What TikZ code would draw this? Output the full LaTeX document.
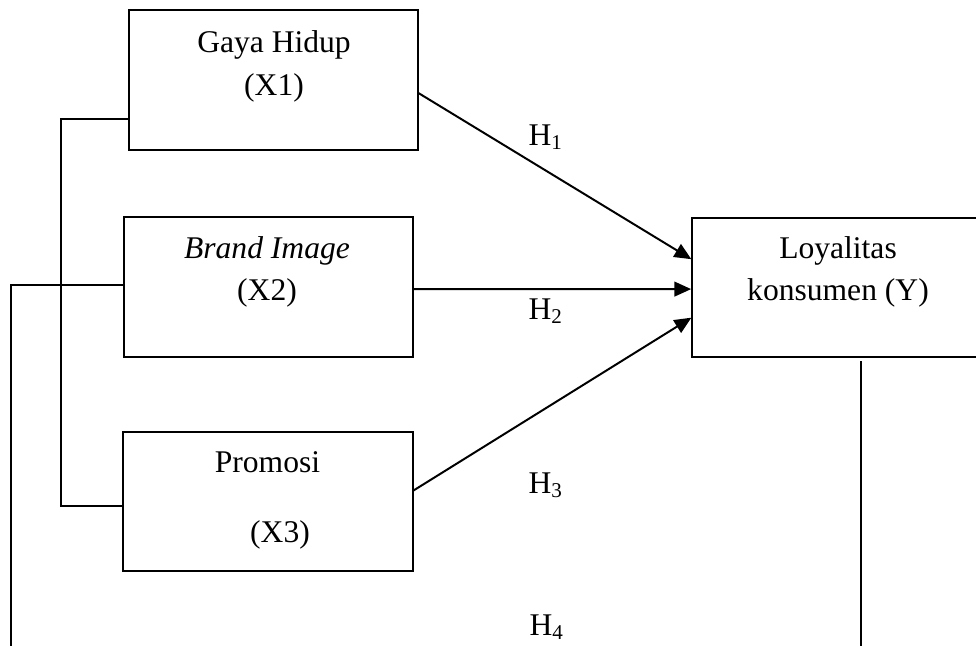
\documentclass[tikz,border=0pt]{standalone}
\usepackage{fontspec}
\setmainfont{Liberation Serif}
\usetikzlibrary{arrows.meta}
\tikzset{
  var box/.style={
    draw, line width=0.75pt, minimum width=110pt, minimum height=53pt,
    inner sep=0pt, outer sep=0pt
  },
  box text/.style={
    anchor=base, inner sep=0pt, font=\fontsize{12}{14}\selectfont
  },
  path line/.style={
    line width=0.75pt
  },
  hyp arrow/.style={
    line width=0.75pt, -{Triangle[length=6.4pt,width=5.6pt]}, shorten >=0.5pt
  },
  hyp label/.style={
    anchor=base, inner sep=0pt, font=\fontsize{12}{14}\selectfont
  }
}

\begin{document}
\begin{tikzpicture}[x=0.38pt,y=-0.38pt]
  \useasboundingbox (0,0) rectangle (976,645);
  \clip (0,0) rectangle (976,645);

  % Independent variables on the left, one under the other.
  \node[var box] (gaya) at (273.5,80) {};
  \node[var box] (brand) at (268.5,287) {};
  \node[var box] (promosi) at (268,501.5) {};
  % The dependent variable runs on past the right margin.
  \node[var box, minimum width=122pt] (loyal) at (853,287.5) {};

  \node[box text] (gaya name) at (274,52) {Gaya Hidup};
  \node[box text] (gaya code) at (274,95) {(X1)};
  \node[box text] (brand name) at (267,258) {\textit{Brand Image}};
  \node[box text] (brand code) at (267,300) {(X2)};
  \node[box text] (promosi name) at (267.5,472) {Promosi};
  \node[box text] (promosi code) at (280,542) {(X3)};
  \node[box text] (loyal name) at (838,258) {Loyalitas};
  \node[box text] (loyal code) at (838,300) {konsumen (Y)};

  % Free ends of the joint path, below the lower margin.
  \coordinate (h4 left) at (11,660);
  \coordinate (h4 right) at (861,660);

  % Partial effects H1--H3.
  \draw[hyp arrow] ([yshift=-4.9pt]gaya.east) -- ([yshift=10.5pt]loyal.west);
  \draw[hyp arrow] ([yshift=-0.8pt]brand.east) -- ([yshift=-0.6pt]loyal.west);
  \draw[hyp arrow] ([yshift=4pt]promosi.east) -- ([yshift=-11.2pt]loyal.west);

  % Joint effect H4: bracket over X1..X3, then down to the bottom line.
  \draw[path line] ([yshift=-14.8pt]gaya.west) -- ++(-68,0) |- ([yshift=-1.7pt]promosi.west);
  \draw[path line] ([yshift=0.8pt]brand.west) -| (h4 left);
  \draw[path line, shorten <=1.5pt] (loyal.south -| h4 right) -- (h4 right);

  \node[hyp label] (h1) at (546,145) {H\textsubscript{1}};
  \node[hyp label] (h2) at (546,319) {H\textsubscript{2}};
  \node[hyp label] (h3) at (546,493) {H\textsubscript{3}};
  \node[hyp label] (h4) at (547,635) {H\textsubscript{4}};
\end{tikzpicture}
\end{document}
